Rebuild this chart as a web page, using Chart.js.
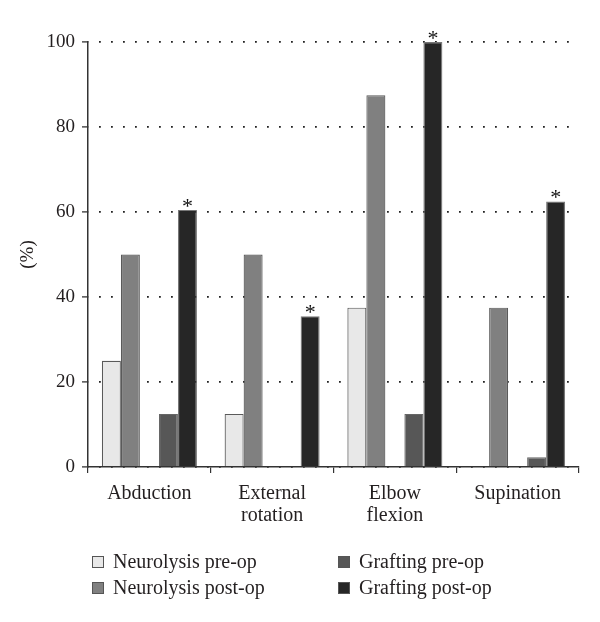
<!DOCTYPE html>
<html>
<head>
<meta charset="utf-8">
<script src="https://cdn.jsdelivr.net/npm/chart.js@4/dist/chart.umd.min.js"></script>
<style>
  body { margin: 0; background: #fff; }
  #wrap { position: relative; width: 600px; height: 622px; }
  #legend { position: absolute; left: 0; top: 548px; width: 600px; font-family: "Liberation Serif", serif; font-size: 20px; color: #231f20; }
  .item { position: absolute; white-space: nowrap; line-height: 26px; }
  .box { display: inline-block; width: 10px; height: 10px; border: 1px solid #555; margin-right: 9px; vertical-align: 0px; }
</style>
</head>
<body>
<div id="wrap">
  <canvas id="myChart" width="600" height="622"></canvas>
  <div id="legend"></div>
</div>
<script>
const categories = [["Abduction"], ["External", "rotation"], ["Elbow", "flexion"], ["Supination"]];
const neurolysisPre = [25, 12.5, 37.5, 0];
const neurolysisPost = [50, 50, 87.5, 37.5];
const graftingPre = [12.5, 0, 12.5, 2.3];
const graftingPost = [60.5, 35.5, 100, 62.5];
const spacer = [null, null, null, null];
const yTicks = [0, 20, 40, 60, 80, 100];

const fontFamily = "'Liberation Serif', serif";

// stars over the grafting post-op bars
const stars = {
  id: "stars",
  afterDatasetsDraw(chart) {
    const ctx = chart.ctx;
    const meta = chart.getDatasetMeta(4);
    ctx.save();
    ctx.fillStyle = "#111";
    ctx.font = "22px " + fontFamily;
    ctx.textAlign = "center";
    ctx.textBaseline = "alphabetic";
    meta.data.forEach((bar) => {
      ctx.fillText("*", bar.x, bar.y + 3);
    });
    ctx.restore();
  }
};

const ctx = document.getElementById("myChart");

const chart = new Chart(ctx, {
  type: "bar",
  data: {
    labels: categories,
    datasets: [
      { label: "Neurolysis pre-op", data: neurolysisPre, backgroundColor: "#e8e8e8", borderColor: "#5a5a5a" },
      { label: "Neurolysis post-op", data: neurolysisPost, backgroundColor: "#808080", borderColor: "#5a5a5a" },
      { label: "", data: spacer, backgroundColor: "rgba(0,0,0,0)" },
      { label: "Grafting pre-op", data: graftingPre, backgroundColor: "#575757", borderColor: "#666" },
      { label: "Grafting post-op", data: graftingPost, backgroundColor: "#262626", borderColor: "#777" }
    ]
  },
  options: {
    responsive: false,
    animation: false,
    devicePixelRatio: 1,
    layout: { padding: { top: 42, right: 21, left: 0, bottom: 0 } },
    datasets: {
      bar: {
        categoryPercentage: 0.774,
        barPercentage: 1,
        borderWidth: 1.2,
        borderSkipped: "bottom"
      }
    },
    plugins: { legend: { display: false }, tooltip: { enabled: false } },
    scales: {
      x: {
        afterFit(scale) { scale.height = 155; },
        grid: { drawOnChartArea: false, tickLength: 6, color: "#333", lineWidth: 1.2 },
        border: { color: "#333", width: 1.5 },
        ticks: { color: "#231f20", font: { family: fontFamily, size: 20, lineHeight: 1.1 }, padding: 10, maxRotation: 0 }
      },
      y: {
        min: 0,
        max: 100,
        afterFit(scale) { scale.width = 88; },
        afterBuildTicks(scale) { scale.ticks = yTicks.map((v) => ({ value: v })); },
        grid: {
          color: "#222",
          lineWidth: 1.8,
          tickBorderDash: [],
          tickLength: 6,
          tickWidth: 1.2
        },
        border: { color: "#333", width: 1.5, dash: [1.8, 10.2], dashOffset: -10.5 },
        ticks: { color: "#231f20", font: { family: fontFamily, size: 19 }, padding: 7 },
        title: { display: true, text: "(%)", color: "#231f20", font: { family: fontFamily, size: 19 }, padding: { top: 17, bottom: 0 } }
      }
    }
  },
  plugins: [stars]
});

// legend in two columns, built from the datasets
const legend = document.getElementById("legend");
const order = [[0, 92, 0], [1, 92, 26], [3, 338, 0], [4, 338, 26]];
order.forEach(([i, left, top]) => {
  const ds = chart.data.datasets[i];
  const el = document.createElement("div");
  el.className = "item";
  el.style.left = left + "px";
  el.style.top = top + "px";
  el.innerHTML = '<span class="box" style="background:' + ds.backgroundColor + '"></span>' + ds.label;
  legend.appendChild(el);
});
</script>
</body>
</html>
